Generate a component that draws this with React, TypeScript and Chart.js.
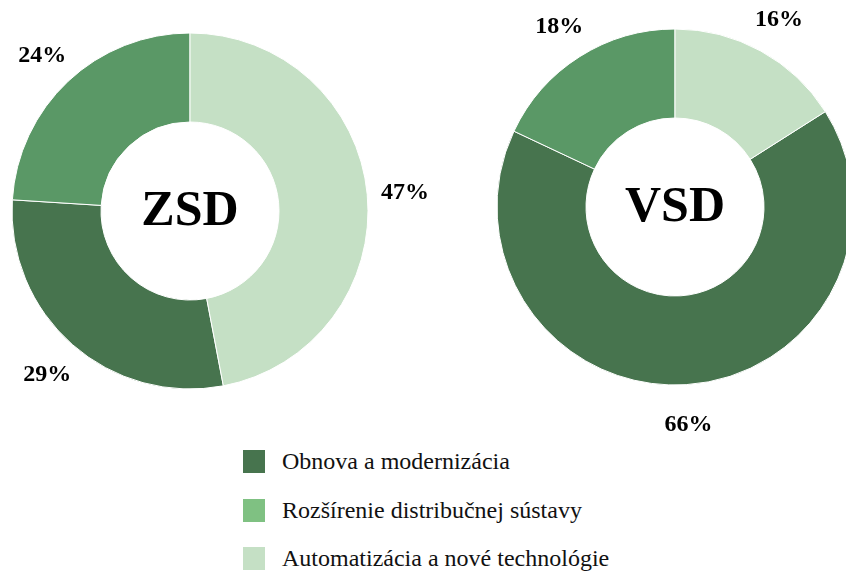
import React, { useEffect, useRef } from "react";
import { Chart, registerables } from "chart.js";
Chart.register(...registerables);

const categories = [
  "Obnova a modernizácia",
  "Rozšírenie distribučnej sústavy",
  "Automatizácia a nové technológie",
];
const zsdValues = [29, 24, 47];
const vsdValues = [66, 18, 16];
const chartTitles = ["ZSD", "VSD"];
const sliceColors = ["#47744E", "#5A9866", "#C5E0C5"];
const legendColors = ["#47744E", "#7FC182", "#C5E0C5"];

const SERIF = "'Liberation Serif', 'Times New Roman', serif";

type DonutProps = {
  title: string;
  values: number[];
  left: number;
  top: number;
  width: number;
  height: number;
  padding: { left: number; right: number; top: number; bottom: number };
};

function Donut({ title, values, left, top, width, height, padding }: DonutProps) {
  const ref = useRef<HTMLCanvasElement | null>(null);
  useEffect(() => {
    if (!ref.current) return;
    const total = values.reduce((a, b) => a + b, 0);
    const rotation = (-360 * (values[0] + values[1])) / total;
    const labelPlugin = {
      id: "outerLabels",
      afterDatasetsDraw(chart: any) {
        const ctx = chart.ctx;
        const meta = chart.getDatasetMeta(0);
        ctx.save();
        ctx.fillStyle = "#000";
        ctx.font = `bold 24px ${SERIF}`;
        ctx.textAlign = "center";
        ctx.textBaseline = "alphabetic";
        meta.data.forEach((arc: any, i: number) => {
          const p = arc.getProps(["x", "y", "startAngle", "endAngle", "outerRadius"], true);
          const mid = (p.startAngle + p.endAngle) / 2;
          const r = p.outerRadius + 38;
          const lx = p.x + Math.cos(mid) * r;
          const ly = p.y + Math.sin(mid) * r;
          const pct = Math.round((values[i] / total) * 100);
          ctx.fillText(pct + "%", lx, ly + 8);
        });
        const ca = chart.chartArea;
        const cx = (ca.left + ca.right) / 2;
        const cy = (ca.top + ca.bottom) / 2;
        ctx.font = `bold 50px ${SERIF}`;
        ctx.fillText(title, cx, cy + 14);
        ctx.restore();
      },
    };
    const chart = new Chart(ref.current, {
      type: "doughnut",
      data: {
        labels: categories,
        datasets: [
          {
            data: values,
            backgroundColor: sliceColors,
            borderColor: "#ffffff",
            borderWidth: 1,
            clip: false as any,
          },
        ],
      },
      options: {
        responsive: false,
        animation: false,
        devicePixelRatio: 1,
        events: [],
        rotation,
        radius: 178,
        cutout: "50%",
        layout: { padding },
        plugins: {
          legend: { display: false },
          tooltip: { enabled: false },
          title: { display: false },
        },
      } as any,
      plugins: [labelPlugin],
    });
    return () => chart.destroy();
  }, []);
  return (
    <canvas
      ref={ref}
      width={width}
      height={height}
      style={{ position: "absolute", left, top, width, height }}
    />
  );
}

export default function App() {
  return (
    <div
      style={{
        position: "absolute",
        left: 0,
        top: 0,
        width: 846,
        height: 572,
        background: "#fff",
        overflow: "hidden",
      }}
    >
      <Donut
        title={chartTitles[0]}
        values={zsdValues}
        left={0}
        top={0}
        width={440}
        height={440}
        padding={{ left: 0, right: 60, top: 0, bottom: 18 }}
      />
      <Donut
        title={chartTitles[1]}
        values={vsdValues}
        left={480}
        top={0}
        width={366}
        height={440}
        padding={{ left: 24, right: 0, top: 0, bottom: 26 }}
      />
      <div style={{ position: "absolute", left: 243, top: 450 }}>
        {categories.map((c, i) => (
          <div
            key={c}
            style={{
              position: "absolute",
              left: 0,
              top: i * 48.5,
              display: "flex",
              alignItems: "center",
              height: 23,
              whiteSpace: "nowrap",
            }}
          >
            <div style={{ width: 22, height: 23, background: legendColors[i] }} />
            <span
              style={{
                marginLeft: 17,
                fontFamily: SERIF,
                fontSize: 24,
                color: "#111",
                lineHeight: "23px",
              }}
            >
              {c}
            </span>
          </div>
        ))}
      </div>
    </div>
  );
}
